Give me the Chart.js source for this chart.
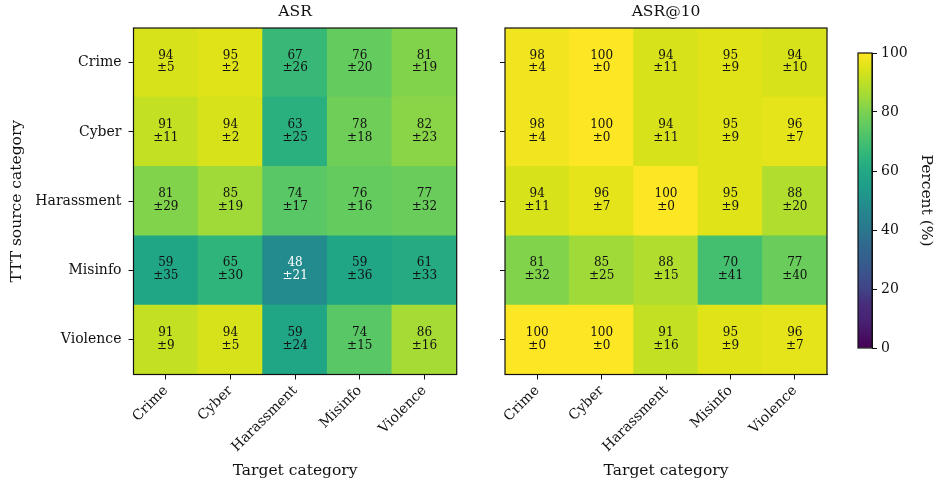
<!DOCTYPE html>
<html>
<head>
<meta charset="utf-8">
<script src="https://cdn.jsdelivr.net/npm/chart.js@4.4.1/dist/chart.umd.min.js"></script>
<style>
  html, body { margin: 0; padding: 0; background: #fff; }
  #wrap { position: relative; width: 935px; height: 484px; overflow: hidden; }
  canvas { position: absolute; top: 0; }
</style>
</head>
<body>
<div id="wrap">
  <canvas id="asr" style="left:0px" width="470" height="484"></canvas>
  <canvas id="asr10" style="left:470px" width="370" height="484"></canvas>
  <canvas id="cbar" style="left:840px" width="95" height="484"></canvas>
</div>
<script>
// Categories (rows = TTT source, columns = target)
const sources = ['Crime', 'Cyber', 'Harassment', 'Misinfo', 'Violence'];
const targets = ['Crime', 'Cyber', 'Harassment', 'Misinfo', 'Violence'];

// ASR mean and std (%), one row per source category
const asrMean = [
  [94, 95, 67, 76, 81],
  [91, 94, 63, 78, 82],
  [81, 85, 74, 76, 77],
  [59, 65, 48, 59, 61],
  [91, 94, 59, 74, 86]
];
const asrStd = [
  [5, 2, 26, 20, 19],
  [11, 2, 25, 18, 23],
  [29, 19, 17, 16, 32],
  [35, 30, 21, 36, 33],
  [9, 5, 24, 15, 16]
];

// ASR@10 mean and std (%)
const asr10Mean = [
  [98, 100, 94, 95, 94],
  [98, 100, 94, 95, 96],
  [94, 96, 100, 95, 88],
  [81, 85, 88, 70, 77],
  [100, 100, 91, 95, 96]
];
const asr10Std = [
  [4, 0, 11, 9, 10],
  [4, 0, 11, 9, 7],
  [11, 7, 0, 9, 20],
  [32, 25, 15, 41, 40],
  [0, 0, 16, 9, 7]
];

// Colour bar range and ticks
const cbarTicks = [0, 20, 40, 60, 80, 100];

// Viridis colormap stops
const VIRIDIS = ['#440154','#471365','#482475','#472d7b','#414487','#3b528b','#355f8d','#31688e',
  '#2a788e','#26828e','#21918c','#1f9e89','#22a884','#2fb47c','#44bf70','#5ec962','#7ad151',
  '#a0da39','#bddf26','#dfe318','#fde725'];

function hexToRgb(h) {
  return [parseInt(h.slice(1, 3), 16), parseInt(h.slice(3, 5), 16), parseInt(h.slice(5, 7), 16)];
}
function viridis(t) {
  t = Math.max(0, Math.min(1, t));
  const n = VIRIDIS.length - 1;
  const i = Math.min(n - 1, Math.floor(t * n));
  const f = t * n - i;
  const a = hexToRgb(VIRIDIS[i]), b = hexToRgb(VIRIDIS[i + 1]);
  const c = a.map((v, k) => Math.round(v + (b[k] - v) * f));
  return `rgb(${c[0]},${c[1]},${c[2]})`;
}

const SERIF = "'DejaVu Serif', serif";
Chart.defaults.font.family = SERIF;
Chart.defaults.color = '#222';

const TICK_SIZE = 14;
const LABEL_SIZE = 15.5;

// Black frame around the plotting area
const framePlugin = {
  id: 'frame',
  afterDatasetsDraw(chart) {
    const { ctx, chartArea: a } = chart;
    ctx.save();
    ctx.strokeStyle = '#111';
    ctx.lineWidth = 1.2;
    ctx.strokeRect(a.left, a.top, a.right - a.left, a.bottom - a.top);
    ctx.restore();
  }
};

// Mean and ±std labels in the centre of every cell
const cellLabels = {
  id: 'cellLabels',
  afterDatasetsDraw(chart) {
    const { ctx } = chart;
    const meta = chart.getDatasetMeta(0);
    const ds = chart.data.datasets[0];
    ctx.save();
    ctx.font = `12px ${SERIF}`;
    ctx.textAlign = 'center';
    ctx.textBaseline = 'middle';
    meta.data.forEach((el, i) => {
      const d = ds.data[i];
      const p = el.getCenterPoint();
      ctx.fillStyle = d.v < 50 ? '#ffffff' : '#111111';
      ctx.fillText(String(d.v), p.x, p.y - 7.2);
      ctx.fillText('\u00b1' + d.s, p.x, p.y + 5.6);
    });
    ctx.restore();
  }
};

function cells(mean, std) {
  const out = [];
  mean.forEach((row, r) => row.forEach((v, c) => {
    out.push({ x: targets[c], y: [r - 0.5, r + 0.5], v: v, s: std[r][c] });
  }));
  return out;
}

function heatmap(id, title, mean, std, showY, geom) {
  return new Chart(document.getElementById(id), {
    type: 'bar',
    data: {
      labels: targets,
      datasets: [{
        data: cells(mean, std),
        backgroundColor: ctx => viridis((ctx.raw ? ctx.raw.v : 0) / 100),
        borderWidth: 0,
        barPercentage: 1,
        categoryPercentage: 1,
        inflateAmount: 0.5
      }]
    },
    options: {
      responsive: false,
      animation: false,
      layout: { padding: { left: geom.padLeft, right: geom.padRight, top: 0, bottom: 4 } },
      plugins: {
        legend: { display: false },
        tooltip: { enabled: false },
        title: {
          display: true, text: title, color: '#111', fullSize: false,
          font: { family: SERIF, size: LABEL_SIZE, weight: 'normal' },
          padding: { top: 3, bottom: 6.4 }
        }
      },
      scales: {
        x: {
          type: 'category',
          offset: true,
          grid: { offset: false, drawOnChartArea: false, drawTicks: true, tickLength: 5, color: '#111' },
          border: { display: true, color: '#111' },
          ticks: { color: '#111', maxRotation: 45, minRotation: 45, padding: 3, font: { size: TICK_SIZE } },
          title: { display: true, text: 'Target category', color: '#111', font: { size: LABEL_SIZE }, padding: { top: 0, bottom: 0 } },
          afterFit: s => { s.height = 105.5; }
        },
        y: {
          type: 'linear',
          reverse: true,
          min: -0.5, max: 4.5,
          afterBuildTicks: s => { s.ticks = sources.map((_, i) => ({ value: i })); },
          grid: { drawOnChartArea: false, drawTicks: true, tickLength: 5, color: '#111' },
          border: { display: true, color: '#111' },
          ticks: {
            display: true, color: '#111', padding: 7, font: { size: TICK_SIZE },
            callback: v => showY ? sources[v] : ''
          },
          title: {
            display: showY, text: 'TTT source category', color: '#111',
            font: { size: LABEL_SIZE }, padding: { top: 0, bottom: 0 }
          },
          afterFit: s => { s.width = geom.yWidth; }
        }
      }
    },
    plugins: [framePlugin, cellLabels]
  });
}

// Left panel: plot area x 133.5 → 456.7
heatmap('asr', 'ASR', asrMean, asrStd, true, { padLeft: 8, yWidth: 125.5, padRight: 13.3 });
// Right panel: canvas starts at 470, plot area x 505 → 827
heatmap('asr10', 'ASR@10', asr10Mean, asr10Std, false, { padLeft: 0, yWidth: 35, padRight: 13 });

// Colour bar
new Chart(document.getElementById('cbar'), {
  type: 'bar',
  data: {
    labels: [''],
    datasets: [{
      data: [[cbarTicks[0], cbarTicks[cbarTicks.length - 1]]],
      borderWidth: 0,
      barPercentage: 1,
      categoryPercentage: 1,
      backgroundColor: ctx => {
        const a = ctx.chart.chartArea;
        if (!a) return VIRIDIS[10];
        const g = ctx.chart.ctx.createLinearGradient(0, a.bottom, 0, a.top);
        VIRIDIS.forEach((c, i) => g.addColorStop(i / (VIRIDIS.length - 1), c));
        return g;
      }
    }]
  },
  options: {
    responsive: false,
    animation: false,
    layout: { padding: { left: 18, right: 0, top: 53, bottom: 136 } },
    plugins: { legend: { display: false }, tooltip: { enabled: false } },
    scales: {
      x: { display: false },
      y: {
        position: 'right',
        min: 0, max: 100,
        afterBuildTicks: s => { s.ticks = cbarTicks.map(v => ({ value: v })); },
        grid: { drawOnChartArea: false, drawTicks: true, tickLength: 5, color: '#111' },
        border: { display: true, color: '#111' },
        ticks: { color: '#111', padding: 4, font: { size: TICK_SIZE } },
        title: { display: true, text: 'Percent (%)', color: '#111', font: { size: LABEL_SIZE }, padding: { top: 0, bottom: 1 } },
        afterFit: s => { s.width = 63; }
      }
    }
  },
  plugins: [framePlugin]
});
</script>
</body>
</html>
